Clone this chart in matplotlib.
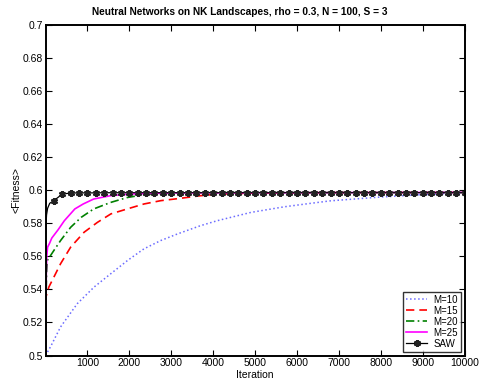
import matplotlib
matplotlib.use("Agg")
import matplotlib.pyplot as plt

plt.rcParams['font.family'] = ['Liberation Sans', 'DejaVu Sans']

# M=10
m10_it = [0, 120, 360, 760, 1160, 1560, 1960, 2350, 2750, 3150, 3700, 4100, 4900, 5700, 6300, 6800, 8000, 8800, 9450, 10000]
m10_fit = [0.500, 0.5053, 0.5173, 0.5314, 0.5414, 0.5495, 0.5575, 0.5645, 0.5695, 0.5735, 0.5785, 0.5815, 0.5865, 0.5899, 0.5919, 0.5935, 0.5958, 0.597, 0.5978, 0.5982]

# M=15
m15_it = [0, 3, 6, 80, 200, 360, 600, 920, 1240, 1560, 1950, 2350, 2750, 3150, 3700, 4100, 5000, 7000, 10000]
m15_fit = [0.500, 0.520, 0.535, 0.5414, 0.5474, 0.5555, 0.5655, 0.5745, 0.5805, 0.5856, 0.5886, 0.5916, 0.5936, 0.5948, 0.5966, 0.5975, 0.5982, 0.5985, 0.5986]

# M=20
m20_it = [0, 10, 25, 45, 200, 360, 600, 850, 1150, 1550, 1950, 2350, 3000, 4000, 10000]
m20_fit = [0.500, 0.530, 0.550, 0.5575, 0.5635, 0.5695, 0.5775, 0.5835, 0.5886, 0.5925, 0.5955, 0.5972, 0.5982, 0.5985, 0.5986]

# M=25
m25_it = [0, 10, 20, 30, 50, 100, 150, 300, 450, 700, 900, 1150, 1550, 2000, 3000, 10000]
m25_fit = [0.500, 0.530, 0.550, 0.560, 0.5655, 0.568, 0.571, 0.576, 0.5815, 0.5886, 0.5916, 0.5946, 0.5966, 0.5976, 0.5983, 0.5986]

# SAW
saw_it = [0, 5, 10, 25, 50, 100] + list(range(200, 10001, 200))
saw_fit = [0.500, 0.570, 0.578, 0.585, 0.589, 0.592,
           0.5936, 0.5976, 0.5982, 0.5983, 0.5983, 0.5983, 0.5984, 0.5984, 0.5984, 0.5984,
           0.5984, 0.5984, 0.5984, 0.5984, 0.5984, 0.5984, 0.5984, 0.5984, 0.5984, 0.5984,
           0.5984, 0.5984, 0.5984, 0.5984, 0.5984, 0.5984, 0.5984, 0.5984, 0.5984, 0.5984,
           0.5984, 0.5984, 0.5984, 0.5984, 0.5984, 0.5984, 0.5984, 0.5984, 0.5984, 0.5984,
           0.5984, 0.5984, 0.5984, 0.5984, 0.5984, 0.5984, 0.5984, 0.5984, 0.5984, 0.5984]

fig = plt.figure(figsize=(4.79, 3.85), dpi=100)
ax = fig.add_axes([0.095, 0.0766, 0.875, 0.8594])

ax.plot(m10_it, m10_fit, color='#6b6bff', linestyle=':', linewidth=1.1, label='M=10')
ax.plot(m15_it, m15_fit, color='red', linestyle=(0, (5, 3)), linewidth=1.2, label='M=15')
ax.plot(m20_it, m20_fit, color='#008000', linestyle=(0, (5, 2, 1, 2)), linewidth=1.2, label='M=20')
ax.plot(m25_it, m25_fit, color='magenta', linestyle='-', linewidth=1.2, label='M=25')
ax.plot(saw_it, saw_fit, color='black', linestyle='-', linewidth=0.9, marker=(6, 2, 0),
        markersize=5, markeredgewidth=1.6, markeredgecolor='#222222',
        markevery=range(6, len(saw_it)), label='SAW')

ax.set_xlim(0, 10000)
ax.set_ylim(0.5, 0.7)
ax.set_xticks(range(1000, 10001, 1000))
yt = [0.5, 0.52, 0.54, 0.56, 0.58, 0.6, 0.62, 0.64, 0.66, 0.68, 0.7]
ax.set_yticks(yt)
ax.set_yticklabels(['%g' % v for v in yt])
ax.tick_params(direction='in', length=4, width=0.8, labelsize=7.5, top=True, right=True, pad=2)
for s in ax.spines.values():
    s.set_linewidth(1.4)

ax.set_xlabel('Iteration', fontsize=7.5, labelpad=1)
ax.set_ylabel('<Fitness>', fontsize=7.5, labelpad=1)
fig.text(0.5, 0.968, 'Neutral Networks on NK Landscapes, rho = 0.3, N = 100, S = 3',
         fontsize=7.3, fontweight='bold', ha='center', va='center')

leg = ax.legend(loc='lower right', fontsize=7, frameon=True, fancybox=False,
                handlelength=2.2, borderpad=0.3, labelspacing=0.1, handletextpad=0.6,
                borderaxespad=0.4)
leg.get_frame().set_edgecolor('black')
leg.get_frame().set_linewidth(1.0)

fig.savefig('out.png', dpi=100)
